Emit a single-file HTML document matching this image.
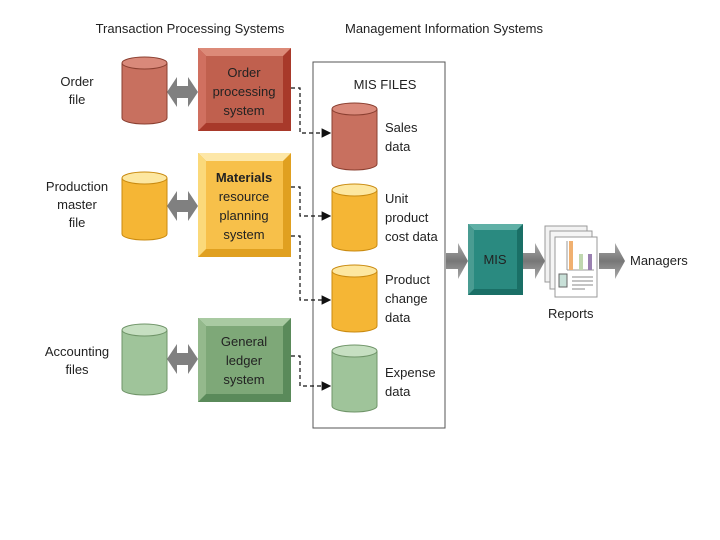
<!DOCTYPE html>
<html><head><style>body{margin:0;background:#fff}svg{display:block}text{font-family:"Liberation Sans",sans-serif;fill:#222}</style></head><body>
<svg width="720" height="540" viewBox="0 0 720 540" xmlns="http://www.w3.org/2000/svg">
<defs>
<marker id="ah" markerWidth="8" markerHeight="8" refX="7" refY="4" orient="auto"><path d="M0,0L8,4L0,8z" fill="#111"/></marker>
<linearGradient id="gr" x1="0" x2="0" y1="0" y2="1"><stop offset="0" stop-color="#aaa"/><stop offset=".5" stop-color="#777"/><stop offset="1" stop-color="#aaa"/></linearGradient>
</defs>
<text x="190" y="33" font-size="13" text-anchor="middle">Transaction Processing Systems</text>
<text x="444" y="33" font-size="13" text-anchor="middle">Management Information Systems</text>
<rect x="313" y="62" width="132" height="366" fill="none" stroke="#555" stroke-width="1"/>
<text x="385" y="89" font-size="13" text-anchor="middle">MIS FILES</text>
<g font-size="13" text-anchor="middle">
<text x="77" y="86">Order</text><text x="77" y="104">file</text>
<text x="77" y="191">Production</text><text x="77" y="209">master</text><text x="77" y="227">file</text>
<text x="77" y="356">Accounting</text><text x="77" y="374">files</text>
</g>
<g>
<path d="M122,63v55a22.5,6 0 0 0 45,0v-55z" fill="#c8705f" stroke="#8a3f30"/><ellipse cx="144.5" cy="63" rx="22.5" ry="6" fill="#d9897a" stroke="#8a3f30"/>
<path d="M122,178v56a22.5,6 0 0 0 45,0v-56z" fill="#f5b635" stroke="#c98a10"/><ellipse cx="144.5" cy="178" rx="22.5" ry="6" fill="#fde7a0" stroke="#c98a10"/>
<path d="M122,330v59a22.5,6 0 0 0 45,0v-59z" fill="#9fc49a" stroke="#6f9468"/><ellipse cx="144.5" cy="330" rx="22.5" ry="6" fill="#c6dfc1" stroke="#6f9468"/>
<path d="M332,109v55a22.5,6 0 0 0 45,0v-55z" fill="#c8705f" stroke="#8a3f30"/><ellipse cx="354.5" cy="109" rx="22.5" ry="6" fill="#d9897a" stroke="#8a3f30"/>
<path d="M332,190v55a22.5,6 0 0 0 45,0v-55z" fill="#f5b635" stroke="#c98a10"/><ellipse cx="354.5" cy="190" rx="22.5" ry="6" fill="#fde7a0" stroke="#c98a10"/>
<path d="M332,271v55a22.5,6 0 0 0 45,0v-55z" fill="#f5b635" stroke="#c98a10"/><ellipse cx="354.5" cy="271" rx="22.5" ry="6" fill="#fde7a0" stroke="#c98a10"/>
<path d="M332,351v55a22.5,6 0 0 0 45,0v-55z" fill="#9fc49a" stroke="#6f9468"/><ellipse cx="354.5" cy="351" rx="22.5" ry="6" fill="#c6dfc1" stroke="#6f9468"/>
</g>
<g fill="#808080">
<path d="M167,92l10,-15v9h11v-9l10,15l-10,15v-9h-11v9z"/>
<path d="M167,206l10,-15v9h11v-9l10,15l-10,15v-9h-11v9z"/>
<path d="M167,359l10,-15v9h11v-9l10,15l-10,15v-9h-11v9z"/>
</g>
<g>
<rect x="198" y="48" width="93" height="83" fill="#a8392a"/><polygon points="198,48 291,48 283,56 206,56" fill="#dc8a78"/><polygon points="198,48 206,56 206,123 198,131" fill="#d07060"/><rect x="206" y="56" width="77" height="67" fill="#c0604e"/>
<rect x="198" y="153" width="93" height="104" fill="#e0a020"/><polygon points="198,153 291,153 283,161 206,161" fill="#fde7a8"/><polygon points="198,153 206,161 206,249 198,257" fill="#fbd97a"/><rect x="206" y="161" width="77" height="88" fill="#f7c04a"/>
<rect x="198" y="318" width="93" height="84" fill="#5a8a5a"/><polygon points="198,318 291,318 283,326 206,326" fill="#a9caa2"/><polygon points="198,318 206,326 206,394 198,402" fill="#94b98c"/><rect x="206" y="326" width="77" height="68" fill="#7ea878"/>
<rect x="468" y="224" width="55" height="71" fill="#1a6f66"/><polygon points="468,224 523,224 517,230 474,230" fill="#5fb0a6"/><polygon points="468,224 474,230 474,289 468,295" fill="#4a9c92"/><rect x="474" y="230" width="43" height="59" fill="#2a8a80"/>
</g>
<g font-size="13" text-anchor="middle">
<text x="244" y="77">Order</text><text x="244" y="96">processing</text><text x="244" y="115">system</text>
<text x="244" y="182" font-weight="bold" fill="#5a3a00">Materials</text><text x="244" y="201">resource</text><text x="244" y="220">planning</text><text x="244" y="239">system</text>
<text x="244" y="346">General</text><text x="244" y="365">ledger</text><text x="244" y="384">system</text>
<text x="495" y="264" fill="#fff">MIS</text>
</g>
<g font-size="13">
<text x="385" y="132">Sales</text><text x="385" y="151">data</text>
<text x="385" y="203">Unit</text><text x="385" y="222">product</text><text x="385" y="241">cost data</text>
<text x="385" y="284">Product</text><text x="385" y="303">change</text><text x="385" y="322">data</text>
<text x="385" y="377">Expense</text><text x="385" y="396">data</text>
<text x="630" y="265">Managers</text>
<text x="548" y="318">Reports</text>
</g>
<g fill="none" stroke="#111" stroke-width="1.2" stroke-dasharray="4,3">
<path d="M291,88H300V133H330" marker-end="url(#ah)"/>
<path d="M291,187H300V216H330" marker-end="url(#ah)"/>
<path d="M291,236H300V300H330" marker-end="url(#ah)"/>
<path d="M291,356H300V386H330" marker-end="url(#ah)"/>
</g>
<g fill="url(#gr)">
<path d="M446,253h12v-10l10,18l-10,18v-10h-12z"/>
<path d="M523,253h12v-10l10,18l-10,18v-10h-12z"/>
<path d="M599,253h16v-10l10,18l-10,18v-10h-16z"/>
</g>
<rect x="545" y="226" width="42" height="56" fill="#f2f2f2" stroke="#999"/>
<rect x="550" y="231" width="42" height="58" fill="#f5f5f5" stroke="#999"/>
<rect x="555" y="237" width="42" height="60" fill="#fff" stroke="#999"/>
<line x1="567" y1="241" x2="567" y2="270" stroke="#999"/><line x1="567" y1="270" x2="594" y2="270" stroke="#999"/>
<rect x="569" y="241" width="4" height="29" fill="#f0b070"/><rect x="579" y="254" width="4" height="16" fill="#c0d8b0"/><rect x="588" y="254" width="4" height="16" fill="#9a80b0"/>
<rect x="559" y="274" width="8" height="13" fill="#c8e0d8" stroke="#666"/>
<g stroke="#888"><line x1="572" y1="277" x2="593" y2="277"/><line x1="572" y1="281" x2="593" y2="281"/><line x1="572" y1="285" x2="593" y2="285"/><line x1="572" y1="289" x2="585" y2="289"/></g>
</svg>
</body></html>
